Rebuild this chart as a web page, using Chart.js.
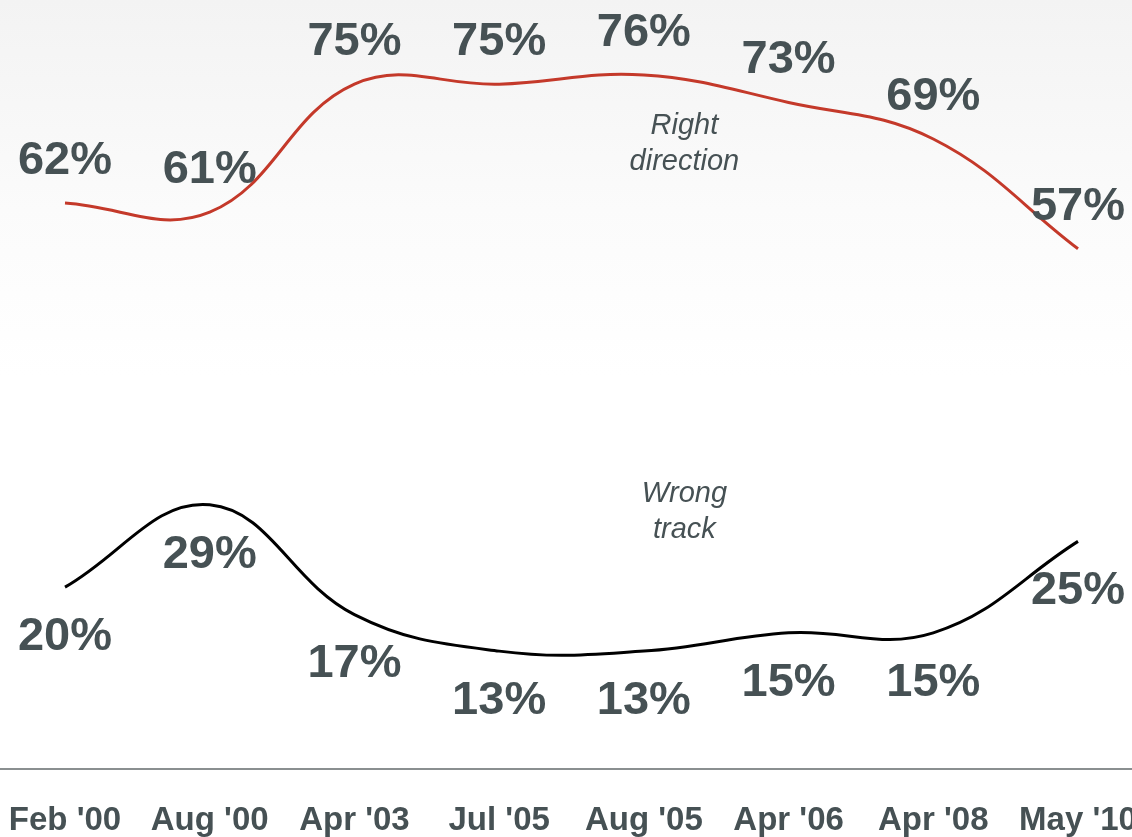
<!DOCTYPE html>
<html>
<head>
<meta charset="utf-8">
<script src="https://cdn.jsdelivr.net/npm/chart.js@4/dist/chart.umd.min.js"></script>
<style>
  html, body { margin: 0; padding: 0; background: #fff; overflow: hidden; }
  #wrap { width: 1132px; height: 837px; position: relative;
          background: linear-gradient(180deg, #f3f3f3 0%, #fbfbfb 25%, #ffffff 45%); }
  canvas { display: block; }
</style>
</head>
<body>
<div id="wrap"><canvas id="chart" width="1132" height="837"></canvas></div>
<script>
// dane z obrazka
const labels = ["Feb '00", "Aug '00", "Apr '03", "Jul '05", "Aug '05", "Apr '06", "Apr '08", "May '10"];
const rightDirection = [62, 61, 75, 75, 76, 73, 69, 57];
const wrongTrack = [20, 29, 17, 13, 13, 15, 15, 25];
const seriesNames = [["Right", "direction"], ["Wrong", "track"]];

const TEXT = '#465154';

// etykiety wartosci nad/pod punktami
const valueLabels = {
  id: 'valueLabels',
  afterDatasetsDraw(chart) {
    const ctx = chart.ctx;
    ctx.save();
    ctx.font = 'bold 47px "Liberation Sans", Arial, sans-serif';
    ctx.fillStyle = TEXT;
    ctx.textAlign = 'center';
    ctx.textBaseline = 'middle';
    chart.data.datasets.forEach((ds, i) => {
      const meta = chart.getDatasetMeta(i);
      meta.data.forEach((pt, j) => {
        const dy = i === 0 ? -42 : 50;
        ctx.fillText(ds.data[j] + '%', pt.x, pt.y + dy);
      });
    });
    // nazwy serii
    const xs = chart.scales.x, ys = chart.scales.y;
    ctx.font = 'italic 29px "Liberation Sans", Arial, sans-serif';
    const cx = xs.getPixelForValue(4.28);
    let y0 = ys.getPixelForValue(70.4);
    seriesNames[0].forEach((t, k) => ctx.fillText(t, cx, y0 + k * 36));
    y0 = ys.getPixelForValue(30.2);
    seriesNames[1].forEach((t, k) => ctx.fillText(t, cx, y0 + k * 36));
    ctx.restore();
  }
};

// os x przez cala szerokosc
const baseLine = {
  id: 'baseLine',
  beforeDatasetsDraw(chart) {
    const ctx = chart.ctx;
    const y = chart.scales.x.top - 1;
    ctx.save();
    ctx.strokeStyle = '#8a8f90';
    ctx.lineWidth = 2;
    ctx.beginPath();
    ctx.moveTo(0, y);
    ctx.lineTo(chart.width, y);
    ctx.stroke();
    ctx.restore();
  }
};

new Chart(document.getElementById('chart'), {
  type: 'line',
  data: {
    labels: labels,
    datasets: [
      { label: 'Right direction', data: rightDirection, borderColor: '#c4392a', borderWidth: 3,
        tension: 0.4, pointRadius: 0, fill: false },
      { label: 'Wrong track', data: wrongTrack, borderColor: '#000000', borderWidth: 3,
        tension: 0.4, pointRadius: 0, fill: false }
    ]
  },
  options: {
    responsive: false,
    animation: false,
    layout: { padding: { left: 65, right: 54, top: 0, bottom: 0 } },
    plugins: { legend: { display: false }, tooltip: { enabled: false } },
    scales: {
      x: {
        offset: false,
        grid: { display: false, drawTicks: false },
        border: { display: false },
        ticks: {
          autoSkip: false, maxRotation: 0, padding: 31,
          color: TEXT,
          font: { family: '"Liberation Sans", Arial, sans-serif', size: 33, weight: 'bold' }
        },
        afterFit(scale) { scale.paddingLeft = 0; scale.paddingRight = 0; scale.height = 67; }
      },
      y: {
        display: false,
        min: 0,
        max: 84.2
      }
    }
  },
  plugins: [valueLabels, baseLine]
});
</script>
</body>
</html>
